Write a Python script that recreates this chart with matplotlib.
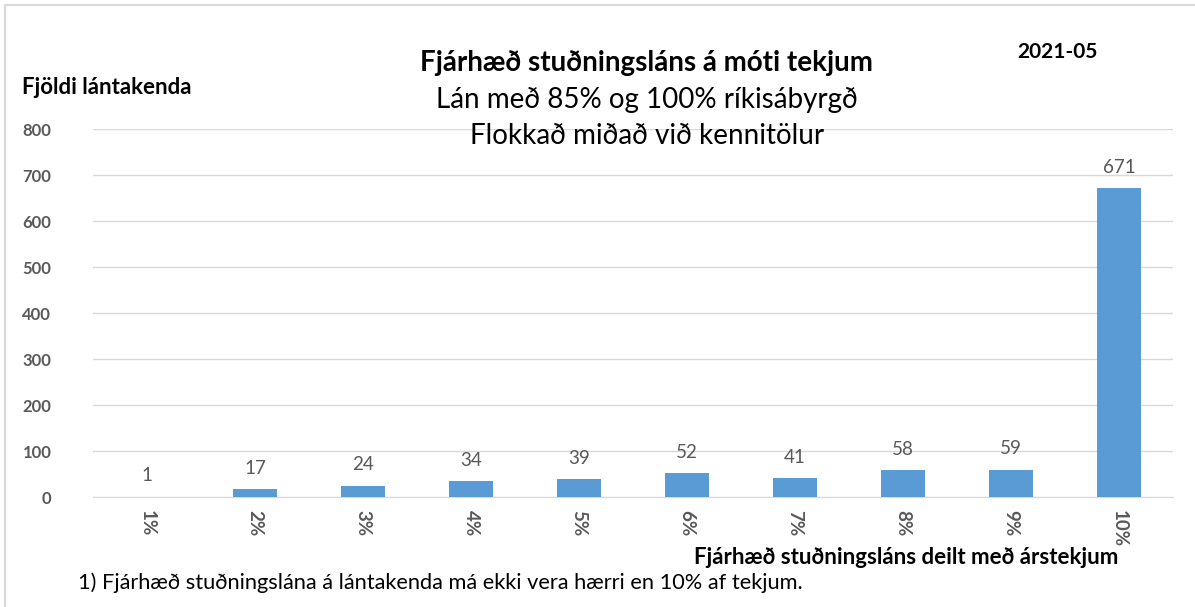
import matplotlib.pyplot as plt
from matplotlib.patches import Rectangle

plt.rcParams['font.family'] = ['Lato', 'DejaVu Sans']

flokkar = ['1%', '2%', '3%', '4%', '5%', '6%', '7%', '8%', '9%', '10%']
fjoldi = [1, 17, 24, 34, 39, 52, 41, 58, 59, 671]
y_ticks = [0, 100, 200, 300, 400, 500, 600, 700, 800]

W, H = 1195, 607
fig = plt.figure(figsize=(W / 100, H / 100), dpi=100)
fig.patches.append(Rectangle((5 / W, -0.1), 1.2, 1 - 5 / H + 0.1, transform=fig.transFigure,
                             fill=False, edgecolor='#d9d9d9', linewidth=1.5))

ax = fig.add_axes([93 / W, 1 - 497 / H, (1173 - 93) / W, (497 - 129) / H])
x = range(len(flokkar))
ax.bar(x, fjoldi, width=0.4, color='#5b9bd5', zorder=3)
for xi, v in zip(x, fjoldi):
    ax.annotate(str(v), (xi, v), xytext=(0, 9), textcoords='offset points',
                ha='center', va='bottom', fontsize=13.5, color='#595959')

ax.set_xlim(-0.5, len(flokkar) - 0.5)
ax.set_ylim(0, 800)
ax.set_yticks(y_ticks)
ax.set_xticks(list(x))
ax.set_xticklabels(flokkar, rotation=-90, fontsize=13.5, fontweight='bold', color='#595959')
ax.tick_params(axis='y', labelsize=12, labelcolor='#595959', length=0, pad=30)
ax.tick_params(axis='x', length=0, pad=9)
for lbl in ax.get_yticklabels():
    lbl.set_fontweight('bold')
ax.grid(axis='y', color='#d9d9d9', linewidth=1, zorder=0)
for s in ['top', 'right', 'left']:
    ax.spines[s].set_visible(False)
ax.spines['bottom'].set_color('#d9d9d9')

fig.text(646 / W, 1 - 63 / H, 'Fjárhæð stuðningsláns á móti tekjum', ha='center', va='center',
         fontsize=20, fontweight='bold')
fig.text(647 / W, 1 - 100 / H, 'Lán með 85% og 100% ríkisábyrgð', ha='center', va='center', fontsize=20)
fig.text(647 / W, 1 - 136 / H, 'Flokkað miðað við kennitölur', ha='center', va='center', fontsize=20)
fig.text(1057 / W, 1 - 52 / H, '2021-05', ha='center', va='center', fontsize=15, fontweight='bold')
fig.text(22 / W, 1 - 87 / H, 'Fjöldi lántakenda', ha='left', va='center', fontsize=16, fontweight='bold')
fig.text(1118 / W, 1 - 557 / H, 'Fjárhæð stuðningsláns deilt með árstekjum',
         ha='right', va='center', fontsize=16, fontweight='bold')
fig.text(78 / W, 1 - 583 / H, '1) Fjárhæð stuðningslána á lántakenda má ekki vera hærri en 10% af tekjum.',
         ha='left', va='center', fontsize=15.7)

fig.savefig('out.png', dpi=100)
